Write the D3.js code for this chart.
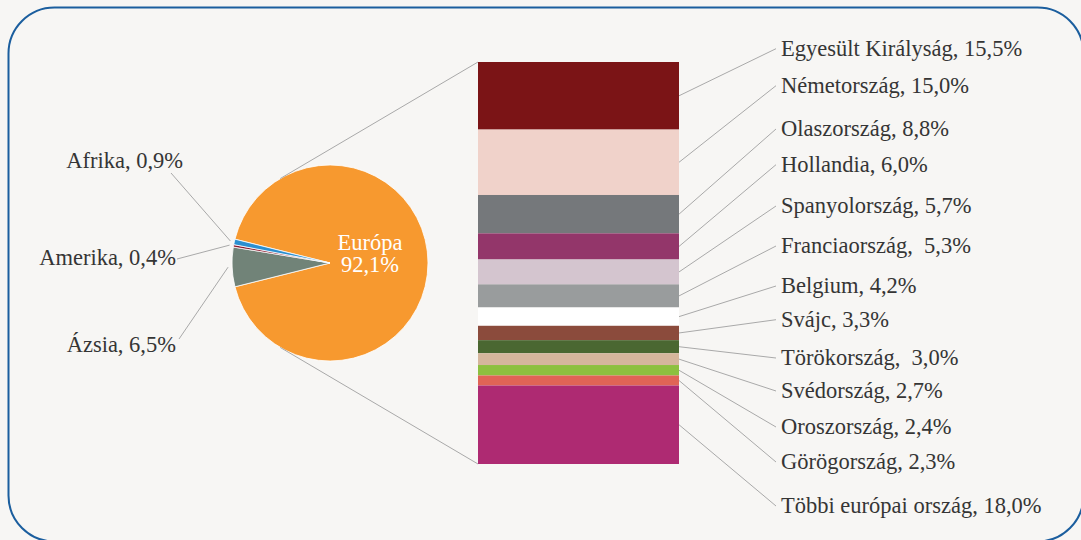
<!DOCTYPE html>
<html>
<head>
<meta charset="utf-8">
<script src="https://cdn.jsdelivr.net/npm/d3@7"></script>
<style>
  html, body { margin: 0; padding: 0; background: #f7f6f4; }
  svg { display: block; }
</style>
</head>
<body>
<script>
// Continents (pie)
var continents = ["Európa", "Ázsia", "Amerika", "Afrika"];
var continentValues = [92.1, 6.5, 0.4, 0.9];
var continentColors = ["#f7992f", "#718378", "#8b1a2e", "#2b8fd0"];

// European countries (bar)
var countries = ["Egyesült Királyság", "Németország", "Olaszország", "Hollandia",
                 "Spanyolország", "Franciaország", "Belgium", "Svájc",
                 "Törökország", "Svédország", "Oroszország", "Görögország",
                 "Többi európai ország"];
var countryValues = [15.5, 15.0, 8.8, 6.0, 5.7, 5.3, 4.2, 3.3, 3.0, 2.7, 2.4, 2.3, 18.0];
var countryLabels = ["Egyesült Királyság, 15,5%", "Németország, 15,0%", "Olaszország, 8,8%",
                     "Hollandia, 6,0%", "Spanyolország, 5,7%", "Franciaország,  5,3%",
                     "Belgium, 4,2%", "Svájc, 3,3%", "Törökország,  3,0%", "Svédország, 2,7%",
                     "Oroszország, 2,4%", "Görögország, 2,3%", "Többi európai ország, 18,0%"];
var countryColors = ["#7b1416", "#f0d2ca", "#75787b", "#93366a", "#d4c5cf", "#999c9d",
                     "#ffffff", "#8b4b3c", "#4a6731", "#d5b69c", "#8dc03f", "#e06456", "#ae2a72"];

var width = 1081, height = 540;
var font = "'Liberation Serif', 'Times New Roman', Times, serif";
var fontSize = 22.5;
var textColor = "#353535";
var lineColor = "#a9a9a9";

var svg = d3.select("body").append("svg")
  .attr("width", width)
  .attr("height", height)
  .attr("font-family", font);

// frame
svg.append("rect")
  .attr("x", 8.5).attr("y", 7.5)
  .attr("width", 1075).attr("height", 534)
  .attr("rx", 46).attr("ry", 46)
  .attr("fill", "#f7f6f4")
  .attr("stroke", "#1b5e9e")
  .attr("stroke-width", 2);

// ---- pie ----
var cx = 330, cy = 263, r = 98;
var total = d3.sum(continentValues);
var a0 = Math.PI / 2 - Math.PI * continentValues[0] / total;

var pie = d3.pie().sort(null).startAngle(a0).endAngle(a0 + 2 * Math.PI);
var arcs = pie(continentValues);
var arc = d3.arc().innerRadius(0).outerRadius(r);

var g = svg.append("g").attr("transform", "translate(" + cx + "," + cy + ")");
g.selectAll("path")
  .data(arcs)
  .enter()
  .append("path")
  .attr("d", arc)
  .attr("fill", function(d, i) { return continentColors[i]; })
  .attr("stroke", "#ffffff")
  .attr("stroke-width", 0.8);

// Európa label inside
g.append("text")
  .attr("x", 40).attr("y", -13)
  .attr("fill", "#ffffff")
  .attr("font-size", fontSize)
  .attr("text-anchor", "middle")
  .text(continents[0]);
g.append("text")
  .attr("x", 40).attr("y", 8.5)
  .attr("fill", "#ffffff")
  .attr("font-size", fontSize)
  .attr("text-anchor", "middle")
  .text("92,1%");

// small slices labels (left), [text end x, baseline, leader start x, leader start y]
var leftLayout = {
  "Afrika": [183, 168, 171, 173],
  "Amerika": [176, 265, 177, 259],
  "Ázsia": [176, 352, 179, 339]
};
var leftText = {"Afrika": "Afrika, 0,9%", "Amerika": "Amerika, 0,4%", "Ázsia": "Ázsia, 6,5%"};

arcs.forEach(function(d, i) {
  if (i === 0) return;
  var name = continents[i];
  var p = leftLayout[name];
  var mid = (d.startAngle + d.endAngle) / 2;
  var ex = cx + (r + 4) * Math.sin(mid);
  var ey = cy - (r + 4) * Math.cos(mid);
  svg.append("line")
    .attr("x1", p[2]).attr("y1", p[3])
    .attr("x2", ex).attr("y2", ey)
    .attr("stroke", lineColor).attr("stroke-width", 1);
  svg.append("text")
    .attr("x", p[0]).attr("y", p[1])
    .attr("text-anchor", "end")
    .attr("font-size", fontSize)
    .attr("fill", textColor)
    .text(leftText[name]);
});

// ---- stacked bar ----
var barX = 478, barW = 201, barTop = 62, barBottom = 464;
var yScale = d3.scaleLinear()
  .domain([0, d3.sum(countryValues)])
  .range([barTop, barBottom]);

var cum = [];
var acc = 0;
countryValues.forEach(function(v) { cum.push([acc, acc + v]); acc += v; });

svg.selectAll("rect.seg")
  .data(cum)
  .enter()
  .append("rect")
  .attr("class", "seg")
  .attr("x", barX)
  .attr("width", barW)
  .attr("y", function(d) { return yScale(d[0]); })
  .attr("height", function(d) { return yScale(d[1]) - yScale(d[0]); })
  .attr("fill", function(d, i) { return countryColors[i]; });

// tangent connectors from pie to bar corners
function tangent(px, py, side) {
  var dx = px - cx, dy = py - cy;
  var dist = Math.sqrt(dx * dx + dy * dy);
  var base = Math.atan2(dy, dx);
  var off = Math.acos(r / dist);
  var a = base + side * off;
  return [cx + r * Math.cos(a), cy + r * Math.sin(a)];
}
var t1 = tangent(barX, barTop, -1);
var t2 = tangent(barX, barBottom, 1);
svg.append("line")
  .attr("x1", t1[0]).attr("y1", t1[1]).attr("x2", barX).attr("y2", barTop)
  .attr("stroke", lineColor).attr("stroke-width", 1);
svg.append("line")
  .attr("x1", t2[0]).attr("y1", t2[1]).attr("x2", barX).attr("y2", barBottom)
  .attr("stroke", lineColor).attr("stroke-width", 1);

// right labels (baselines as placed in the original)
var labelBaselines = [55.7, 92.7, 136, 171.7, 213, 253, 293, 326.7, 365, 398, 434, 469, 513];
var labelX = 781;

cum.forEach(function(d, i) {
  var my = (yScale(d[0]) + yScale(d[1])) / 2;
  svg.append("line")
    .attr("x1", barX + barW).attr("y1", my)
    .attr("x2", labelX - 5).attr("y2", labelBaselines[i] - 7)
    .attr("stroke", lineColor).attr("stroke-width", 1);
  svg.append("text")
    .attr("x", labelX).attr("y", labelBaselines[i])
    .attr("font-size", fontSize)
    .attr("fill", textColor)
    .style("white-space", "pre")
    .text(countryLabels[i]);
});
</script>
</body>
</html>
